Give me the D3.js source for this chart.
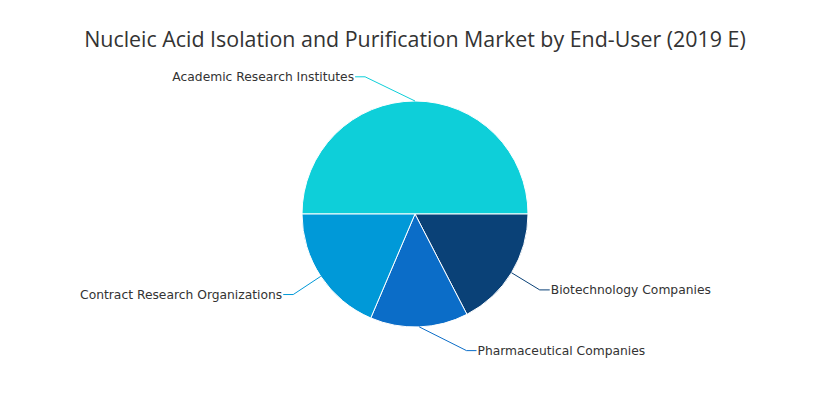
<!DOCTYPE html>
<html><head><meta charset="utf-8">
<script src="https://cdn.jsdelivr.net/npm/d3@7"></script>
<style>body{margin:0;background:#fff}</style>
</head><body>
<svg id="c" width="820" height="400"></svg>
<script>
const title = "Nucleic Acid Isolation and Purification Market by End-User (2019 E)";
const categories = ["Academic Research Institutes","Biotechnology Companies","Pharmaceutical Companies","Contract Research Organizations"];
const values = [50.0, 17.4, 14.0, 18.6];
const colors = ["#0ecfd9","#0a4177","#0b6dc8","#0099d8"];
const labelAngleShift = [-20, 0, -18.5, 0]; // degrees, label collision shift

const svg = d3.select("#c");
const W = 820, H = 400, cx = 415, cy = 214, R = 113, dist = 33;

svg.append("text").attr("x", cx).attr("y", 47).attr("text-anchor","middle")
  .attr("font-family","'Open Sans', sans-serif").attr("font-size", 21.4).attr("fill","#333")
  .text(title);

const pie = d3.pie().sort(null).value(d=>d).startAngle(-Math.PI/2).endAngle(1.5*Math.PI);
const arcs = pie(values);
const arc = d3.arc().innerRadius(0).outerRadius(R);
const g = svg.append("g").attr("transform",`translate(${cx},${cy})`);
g.selectAll("path.s").data(arcs).join("path").attr("class","s")
  .attr("d", arc).attr("fill",(d,i)=>colors[i]).attr("stroke","#fff").attr("stroke-width",1).attr("stroke-linejoin","round");

arcs.forEach((a,i)=>{
  const mid = (a.startAngle + a.endAngle)/2;
  const p0 = [Math.sin(mid)*R, -Math.cos(mid)*R];
  const ea = mid + labelAngleShift[i]*Math.PI/180;
  const p1 = [Math.sin(ea)*(R+dist), -Math.cos(ea)*(R+dist)];
  const right = Math.sin(ea) > 0;
  const p2 = [p1[0] + (right?10:-10), p1[1]];
  g.append("path").attr("d", d3.line()([p0,p1,p2])).attr("fill","none")
    .attr("stroke", colors[i]).attr("stroke-width",1);
  g.append("text").attr("x", p2[0] + (right?1:-1)).attr("y", p2[1]).attr("dy","0.35em")
    .attr("text-anchor", right?"start":"end")
    .attr("font-family","'DejaVu Sans', sans-serif").attr("font-size", 12.3).attr("fill","#333")
    .text(categories[i]);
});
</script>
</body></html>
